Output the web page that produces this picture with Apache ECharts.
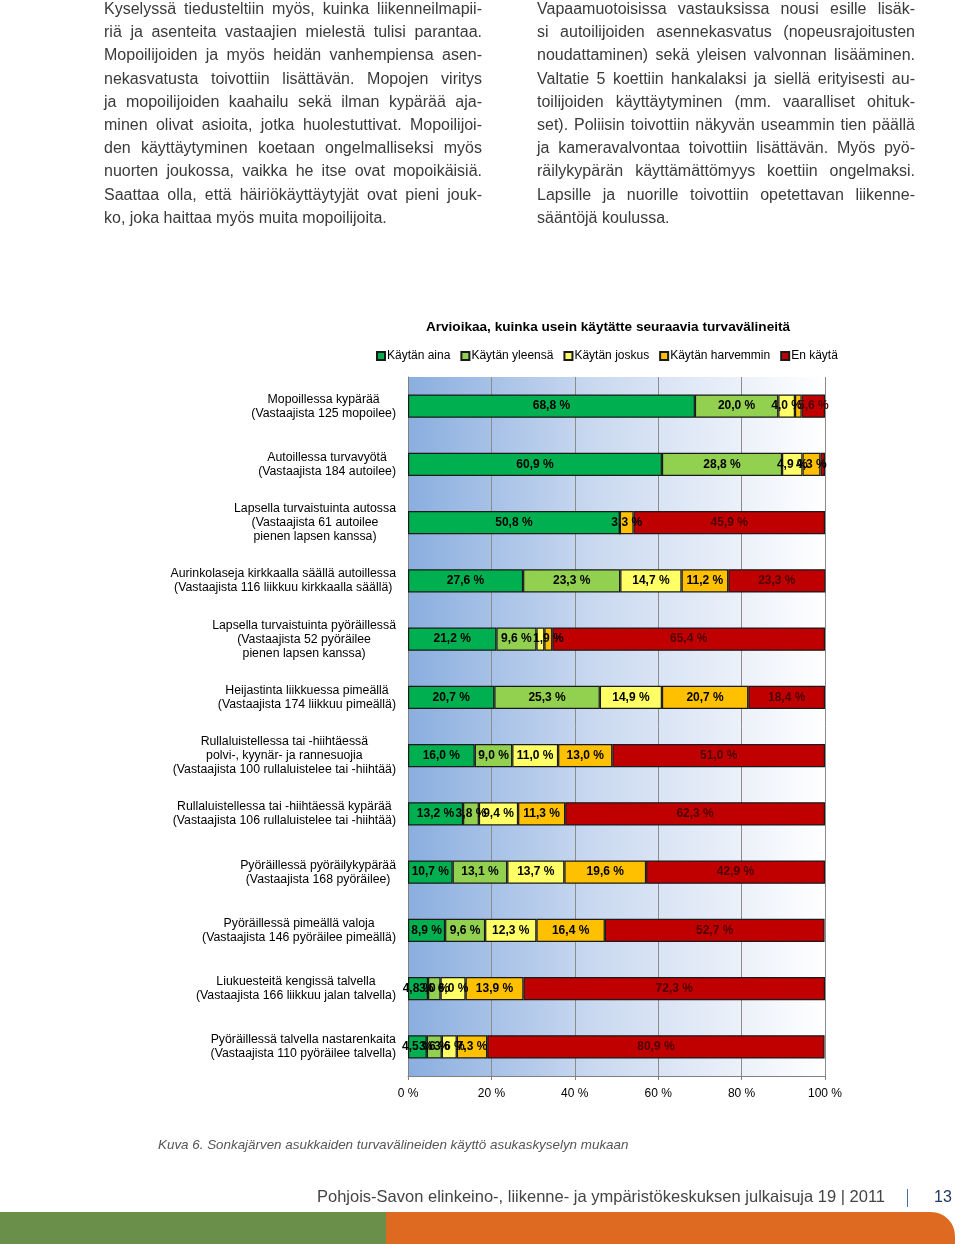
<!DOCTYPE html>
<html>
<head>
<meta charset="utf-8">
<script src="https://cdn.jsdelivr.net/npm/echarts@6/dist/echarts.min.js"></script>
<style>
  html, body { margin: 0; padding: 0; background: #fff; }
  body { width: 960px; height: 1244px; position: relative; overflow: hidden; font-family: "Liberation Sans", Arial, sans-serif; }
  #chart { position: absolute; left: 0; top: 0; width: 960px; height: 1244px; }
  .col { position: absolute; top: -3px; width: 378px; font-size: 16px; line-height: 23.2px; color: #3a3a3a; z-index: 2; }
  .col div { white-space: nowrap; text-align: justify; text-align-last: justify; }
  .col div.last { text-align-last: left; }
  #caption { position: absolute; left: 158px; top: 1137px; font-size: 13.4px; font-style: italic; color: #555; z-index: 2; white-space: nowrap; }
  #footer { position: absolute; left: 317px; top: 1187px; font-size: 16.5px; color: #444; z-index: 2; white-space: nowrap; }
  #bar { position: absolute; left: 907px; top: 1189px; width: 1px; height: 18px; background: #4a6fa5; z-index: 2; }
  #page { position: absolute; left: 934px; top: 1188px; font-size: 16px; color: #1f3864; z-index: 2; }
  #band-g { position: absolute; left: 0; top: 1212px; width: 386px; height: 32px; background: #6a8f4a; }
  #band-o { position: absolute; left: 386px; top: 1212px; width: 569px; height: 40px; background: #de6a22; border-top-right-radius: 24px; }
</style>
</head>
<body>
<div id="chart"></div>
<div class="col" style="left:104px">
  <div>Kyselyssä tiedusteltiin myös, kuinka liikenneilmapii-</div>
  <div>riä ja asenteita vastaajien mielestä tulisi parantaa.</div>
  <div>Mopoilijoiden ja myös heidän vanhempiensa asen-</div>
  <div>nekasvatusta toivottiin lisättävän. Mopojen viritys</div>
  <div>ja mopoilijoiden kaahailu sekä ilman kypärää aja-</div>
  <div>minen olivat asioita, jotka huolestuttivat. Mopoilijoi-</div>
  <div>den käyttäytyminen koetaan ongelmalliseksi myös</div>
  <div>nuorten joukossa, vaikka he itse ovat mopoikäisiä.</div>
  <div>Saattaa olla, että häiriökäyttäytyjät ovat pieni jouk-</div>
  <div class="last">ko, joka haittaa myös muita mopoilijoita.</div>
</div>
<div class="col" style="left:537px">
  <div>Vapaamuotoisissa vastauksissa nousi esille lisäk-</div>
  <div>si autoilijoiden asennekasvatus (nopeusrajoitusten</div>
  <div>noudattaminen) sekä yleisen valvonnan lisääminen.</div>
  <div>Valtatie 5 koettiin hankalaksi ja siellä erityisesti au-</div>
  <div>toilijoiden käyttäytyminen (mm. vaaralliset ohituk-</div>
  <div>set). Poliisin toivottiin näkyvän useammin tien päällä</div>
  <div>ja kameravalvontaa toivottiin lisättävän. Myös pyö-</div>
  <div>räilykypärän käyttämättömyys koettiin ongelmaksi.</div>
  <div>Lapsille ja nuorille toivottiin opetettavan liikenne-</div>
  <div class="last">sääntöjä koulussa.</div>
</div>
<div id="caption">Kuva 6. Sonkajärven asukkaiden turvavälineiden käyttö asukaskyselyn mukaan</div>
<div id="footer">Pohjois-Savon elinkeino-, liikenne- ja ympäristökeskuksen julkaisuja 19 | 2011</div>
<div id="bar"></div>
<div id="page">13</div>
<div id="band-g"></div>
<div id="band-o"></div>
<script>
const categories = [
  "Mopoillessa kypärää\n(Vastaajista 125 mopoilee)",
  "Autoillessa turvavyötä\n(Vastaajista 184 autoilee)",
  "Lapsella turvaistuinta autossa\n(Vastaajista 61 autoilee\npienen lapsen kanssa)",
  "Aurinkolaseja kirkkaalla säällä autoillessa\n(Vastaajista 116 liikkuu kirkkaalla säällä)",
  "Lapsella turvaistuinta pyöräillessä\n(Vastaajista 52 pyöräilee\npienen lapsen kanssa)",
  "Heijastinta liikkuessa pimeällä\n(Vastaajista 174 liikkuu pimeällä)",
  "Rullaluistellessa tai -hiihtäessä\npolvi-, kyynär- ja rannesuojia\n(Vastaajista 100 rullaluistelee tai -hiihtää)",
  "Rullaluistellessa tai -hiihtäessä kypärää\n(Vastaajista 106 rullaluistelee tai -hiihtää)",
  "Pyöräillessä pyöräilykypärää\n(Vastaajista 168 pyöräilee)",
  "Pyöräillessä pimeällä valoja\n(Vastaajista 146 pyöräilee pimeällä)",
  "Liukuesteitä kengissä talvella\n(Vastaajista 166 liikkuu jalan talvella)",
  "Pyöräillessä talvella nastarenkaita\n(Vastaajista 110 pyöräilee talvella)"
];
const seriesNames = ["Käytän aina", "Käytän yleensä", "Käytän joskus", "Käytän harvemmin", "En käytä"];
const kaytanAina     = [68.8, 60.9, 50.8, 27.6, 21.2, 20.7, 16.0, 13.2, 10.7, 8.9, 4.8, 4.5];
const kaytanYleensa  = [20.0, 28.8, 0,    23.3, 9.6,  25.3, 9.0,  3.8,  13.1, 9.6, 3.0, 3.6];
const kaytanJoskus   = [4.0,  4.9,  0,    14.7, 1.9,  14.9, 11.0, 9.4,  13.7, 12.3, 6.0, 3.6];
const kaytanHarvemmin= [1.6,  4.3,  3.3,  11.2, 1.9,  20.7, 13.0, 11.3, 19.6, 16.4, 13.9, 7.3];
const enKayta        = [5.6,  1.1,  45.9, 23.3, 65.4, 18.4, 51.0, 62.3, 42.9, 52.7, 72.3, 80.9];
const xTicks = [0, 20, 40, 60, 80, 100];
// labels not printed in the original: [series index, category index]
const hiddenLabels = [[3, 0], [4, 1], [2, 4]];

const seriesData = [kaytanAina, kaytanYleensa, kaytanJoskus, kaytanHarvemmin, enKayta];
const colors = ["#00b050", "#92d050", "#ffff66", "#ffc000", "#c00000"];
const labelColors = ["#000", "#000", "#000", "#000", "#4d0000"];
const FONT = '"Liberation Sans", Arial, sans-serif';

const isHidden = (s, c) => hiddenLabels.some(h => h[0] === s && h[1] === c);

const chart = echarts.init(document.getElementById('chart'), null, { renderer: 'canvas' });
chart.setOption({
  animation: false,
  backgroundColor: 'transparent',
  title: {
    text: 'Arvioikaa, kuinka usein käytätte seuraavia turvavälineitä',
    left: 603, top: 315, textAlign: 'center',
    textStyle: { fontFamily: FONT, fontSize: 13.6, fontWeight: 'bold', color: '#000' }
  },
  legend: {
    data: seriesNames,
    left: 371, top: 345,
    icon: 'rect', itemWidth: 8, itemHeight: 8, itemGap: 10,
    textStyle: { fontFamily: FONT, fontSize: 12, color: '#000', padding: [0, 0, 0, -3] }
  },
  grid: {
    left: 408, right: 135, top: 377, bottom: 168,
    show: true, borderWidth: 0,
    backgroundColor: new echarts.graphic.LinearGradient(0, 0, 1, 0, [
      { offset: 0, color: '#8aaedf' },
      { offset: 0.45, color: '#cad9f0' },
      { offset: 1, color: '#ffffff' }
    ])
  },
  xAxis: {
    type: 'value', min: xTicks[0], max: xTicks[xTicks.length - 1], interval: 20,
    axisLine: { show: true, lineStyle: { color: '#808080', width: 1 } },
    axisTick: { show: true, length: 4, lineStyle: { color: '#808080' } },
    splitLine: { show: true, lineStyle: { color: '#8c8c8c', width: 1 } },
    axisLabel: { formatter: '{value} %', margin: 12, fontFamily: FONT, fontSize: 12, color: '#000' }
  },
  yAxis: {
    type: 'category', data: categories, inverse: true,
    axisLine: { show: true, lineStyle: { color: '#808080' } },
    axisTick: { show: false },
    axisLabel: {
      margin: 12, align: 'right',
      fontFamily: FONT, fontSize: 12.3, color: '#000', lineHeight: 14,
      formatter: v => v.split('\n').map(l => '{c|' + l + '}').join('\n'),
      rich: { c: { align: 'center', fontFamily: FONT, fontSize: 12.3, color: '#000', lineHeight: 14 } }
    }
  },
  series: seriesNames.map((name, i) => ({
    name, type: 'bar', stack: 'all',
    data: seriesData[i].map((v, c) => isHidden(i, c) ? { value: v, label: { show: false } } : v),
    barWidth: '40%',
    itemStyle: { color: colors[i], borderColor: '#1a1a1a', borderWidth: 1.2 },
    label: {
      show: true, position: 'inside',
      fontFamily: FONT, fontSize: 12, fontWeight: 'bold', color: labelColors[i],
      formatter: p => (p.value === 0 ? '' : p.value.toFixed(1).replace('.', ',') + ' %')
    }
  }))
});
</script>
</body>
</html>
